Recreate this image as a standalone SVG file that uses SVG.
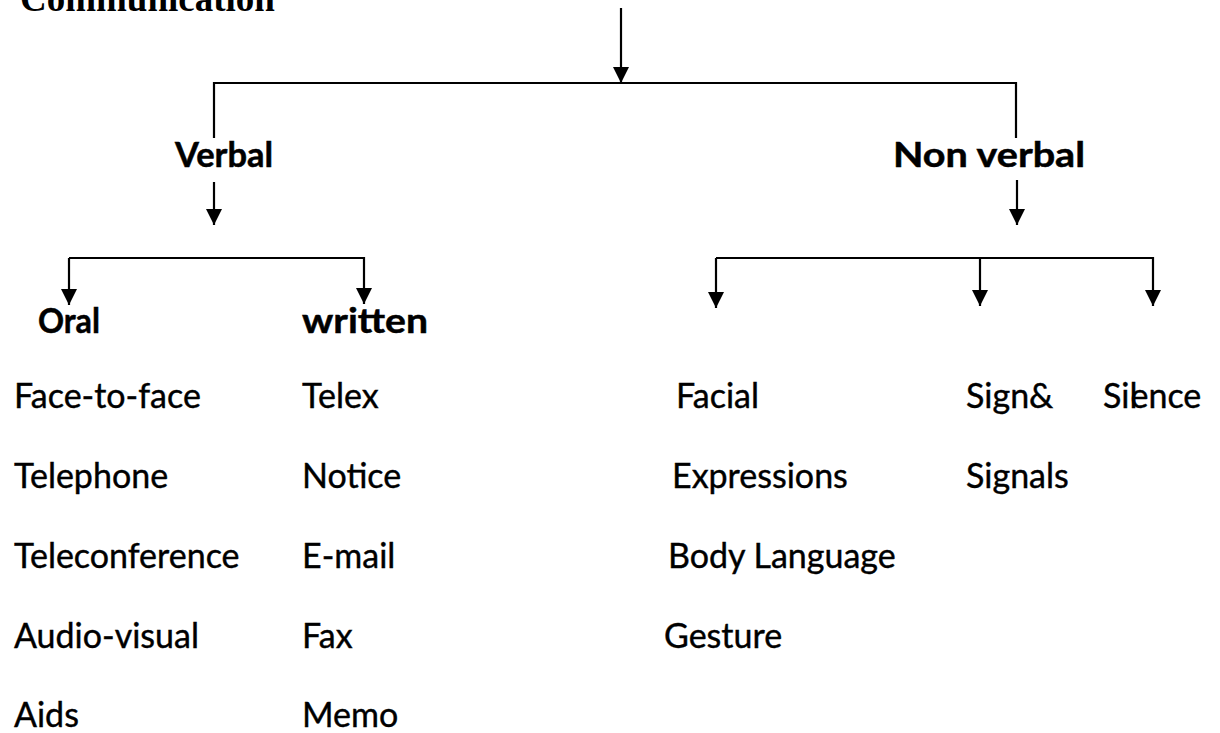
<svg xmlns="http://www.w3.org/2000/svg" width="1220" height="733" viewBox="0 0 1220 733">
  <style>
    .title { font-family: "Liberation Serif", "Times New Roman", serif; font-weight: bold; font-size: 37px; fill: #000; }
    .head { font-family: Lato, "Open Sans", sans-serif; font-weight: bold; font-size: 35px; fill: #000; stroke: #000; stroke-width: 0.5; }
    .item { font-family: Lato, "Open Sans", sans-serif; font-size: 34px; fill: #000; stroke: #000; stroke-width: 0.4; }
    .wire { fill: none; stroke: #000; stroke-width: 2.2; }
  </style>
  <defs>
    <marker id="arrow" viewBox="0 0 16 16" refX="16" refY="8" markerWidth="16" markerHeight="16" markerUnits="userSpaceOnUse" orient="auto">
      <path d="M0,0 L16,8 L0,16 z" fill="#000"/>
    </marker>
  </defs>

  <rect width="1220" height="733" fill="#fff"/>

  <!-- tree connectors -->
  <g id="connectors">
    <path class="wire" d="M621,8 V83" marker-end="url(#arrow)"/>
    <path class="wire" d="M214,138 V83 H1016 V138"/>
    <path class="wire" d="M214,182 V225" marker-end="url(#arrow)"/>
    <path class="wire" d="M69,258 V305" marker-end="url(#arrow)"/>
    <path class="wire" d="M69,258 H364 V304" marker-end="url(#arrow)"/>
    <path class="wire" d="M1017,180 V225" marker-end="url(#arrow)"/>
    <path class="wire" d="M716,258 V308" marker-end="url(#arrow)"/>
    <path class="wire" d="M716,258 H1153 V306" marker-end="url(#arrow)"/>
    <path class="wire" d="M980,258 V306" marker-end="url(#arrow)"/>
  </g>

  <g id="communication">
    <text class="title" x="20" y="11">Communication</text>
  </g>

  <g id="verbal">
    <text class="head" x="175" y="167" textLength="98" lengthAdjust="spacingAndGlyphs">Verbal</text>
  </g>
  <g id="non-verbal">
    <text class="head" x="893" y="167" textLength="192" lengthAdjust="spacingAndGlyphs">Non verbal</text>
  </g>

  <g id="oral">
    <text class="head" x="38" y="333" textLength="62" lengthAdjust="spacingAndGlyphs">Oral</text>
    <text class="item" x="14" y="408">Face-to-face</text>
    <text class="item" x="14" y="488">Telephone</text>
    <text class="item" x="14" y="568">Teleconference</text>
    <text class="item" x="14" y="648">Audio-visual</text>
    <text class="item" x="14" y="727">Aids</text>
  </g>

  <g id="written">
    <text class="head" x="302" y="333" textLength="126" lengthAdjust="spacingAndGlyphs">written</text>
    <text class="item" x="302" y="408">Telex</text>
    <text class="item" x="302" y="488">Notice</text>
    <text class="item" x="302" y="568">E-mail</text>
    <text class="item" x="302" y="648">Fax</text>
    <text class="item" x="302" y="727">Memo</text>
  </g>

  <g id="facial">
    <text class="item" x="676" y="408">Facial</text>
    <text class="item" x="672" y="488">Expressions</text>
    <text class="item" x="668" y="568">Body Language</text>
    <text class="item" x="664" y="648">Gesture</text>
  </g>

  <g id="signs">
    <text class="item" x="966" y="408">Sign&amp;</text>
    <text class="item" x="966" y="488">Signals</text>
  </g>

  <g id="silence">
    <text class="item" x="1103" y="408">Sil<tspan dx="-7">ence</tspan></text>
  </g>
</svg>
